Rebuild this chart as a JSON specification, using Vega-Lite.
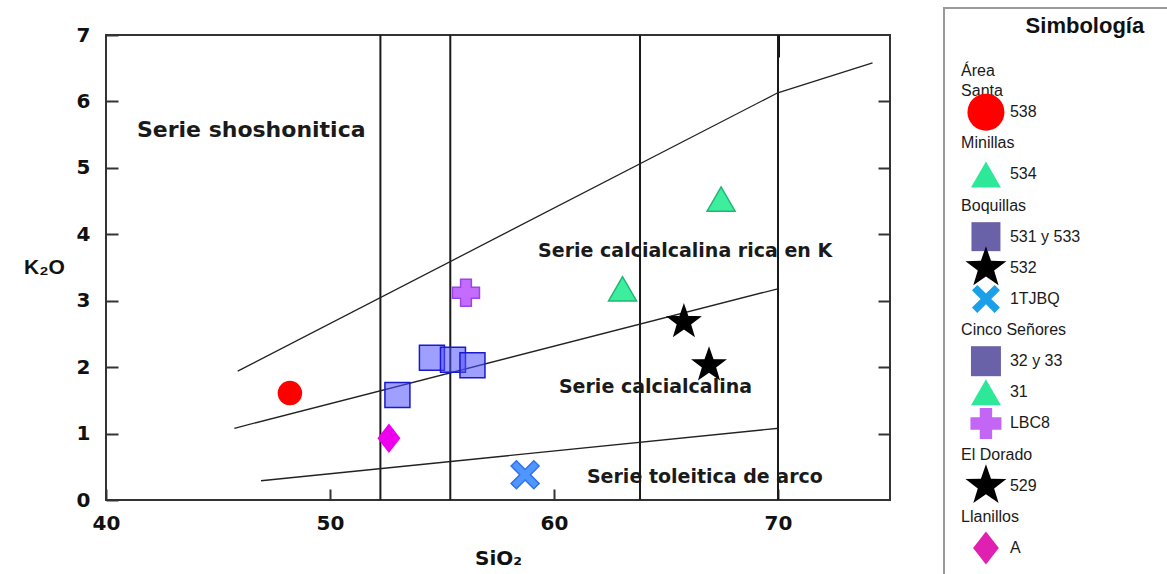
{
  "$schema": "https://vega.github.io/schema/vega-lite/v6.json",
  "padding": {"left": 22, "top": 7, "right": 0, "bottom": 0},
  "background": "white",
  "config": {"font": "Liberation Sans"},
  "datasets": {
    "points": [
      {"area": "Área Santa", "sample": "538", "SiO2": 48.21, "K2O": 1.61},
      {"area": "Llanillos", "sample": "A", "SiO2": 52.63, "K2O": 0.93},
      {"area": "Boquillas", "sample": "531 y 533", "SiO2": 53.01, "K2O": 1.58},
      {"area": "Boquillas", "sample": "531 y 533", "SiO2": 54.55, "K2O": 2.14},
      {"area": "Cinco Señores", "sample": "32 y 33", "SiO2": 55.49, "K2O": 2.11},
      {"area": "Cinco Señores", "sample": "32 y 33", "SiO2": 56.36, "K2O": 2.03},
      {"area": "Cinco Señores", "sample": "LBC8", "SiO2": 56.07, "K2O": 3.12},
      {"area": "Boquillas", "sample": "1TJBQ", "SiO2": 58.71, "K2O": 0.38},
      {"area": "Cinco Señores", "sample": "31", "SiO2": 63.06, "K2O": 3.18},
      {"area": "Minillas", "sample": "534", "SiO2": 67.46, "K2O": 4.53},
      {"area": "Boquillas", "sample": "532", "SiO2": 65.8, "K2O": 2.68},
      {"area": "El Dorado", "sample": "529", "SiO2": 66.92, "K2O": 2.03}
    ],
    "bounds": [
      {"boundary": "shoshonitica", "SiO2": 45.88, "K2O": 1.94},
      {"boundary": "shoshonitica", "SiO2": 69.99, "K2O": 6.13},
      {"boundary": "shoshonitica", "SiO2": 74.22, "K2O": 6.58},
      {"boundary": "alto K", "SiO2": 45.73, "K2O": 1.08},
      {"boundary": "alto K", "SiO2": 69.99, "K2O": 3.18},
      {"boundary": "toleitica", "SiO2": 46.92, "K2O": 0.29},
      {"boundary": "toleitica", "SiO2": 70.04, "K2O": 1.08}
    ],
    "vlines": [
      {"SiO2": 52.25}, {"SiO2": 55.37}, {"SiO2": 63.84}, {"SiO2": 70.0}
    ],
    "series": [
      {"serie": "Serie shoshonitica", "SiO2": 41.38, "K2O": 5.465},
      {"serie": "Serie calcialcalina rica en K", "SiO2": 59.29, "K2O": 3.66},
      {"serie": "Serie calcialcalina", "SiO2": 60.22, "K2O": 1.61},
      {"serie": "Serie toleitica de arco", "SiO2": 61.47, "K2O": 0.256}
    ],
    "legend": [
      {"idx": 0, "kind": "header2", "label": "Área\nSanta"},
      {"idx": 1, "kind": "item", "label": "538"},
      {"idx": 2, "kind": "header", "label": "Minillas"},
      {"idx": 3, "kind": "item", "label": "534"},
      {"idx": 4, "kind": "header", "label": "Boquillas"},
      {"idx": 5, "kind": "item", "label": "531 y 533"},
      {"idx": 6, "kind": "item", "label": "532"},
      {"idx": 7, "kind": "item", "label": "1TJBQ"},
      {"idx": 8, "kind": "header", "label": "Cinco Señores"},
      {"idx": 9, "kind": "item", "label": "32 y 33"},
      {"idx": 10, "kind": "item", "label": "31"},
      {"idx": 11, "kind": "item", "label": "LBC8"},
      {"idx": 12, "kind": "header", "label": "El Dorado"},
      {"idx": 13, "kind": "item", "label": "529"},
      {"idx": 14, "kind": "header", "label": "Llanillos"},
      {"idx": 15, "kind": "item", "label": "A"}
    ]
  },
  "resolve": {"scale": {"shape": "independent", "fill": "independent", "stroke": "independent", "size": "independent", "fillOpacity": "independent", "x": "independent", "y": "independent"}},
  "spacing": 51,
  "hconcat": [
    {
      "spacing": 0,
      "vconcat": [
        {
          "width": 10,
          "height": 16,
          "view": {"stroke": null},
          "data": {"values": []},
          "mark": "point"
        },
        {
          "width": 784,
          "height": 465,
          "view": {"stroke": "#333333", "strokeWidth": 2},
          "resolve": {"axis": {"x": "independent", "y": "independent"}},
          "layer": [
            {
              "data": {"name": "vlines"},
              "mark": {"type": "rule", "stroke": "#1a1a1a", "strokeWidth": 2},
              "encoding": {
                "x": {
                  "field": "SiO2", "type": "quantitative",
                  "scale": {"domain": [40, 75], "nice": false, "zero": false},
                  "axis": {
                    "orient": "bottom", "values": [40, 50, 60, 70], "domain": false, "grid": false,
                    "tickSize": -11, "tickWidth": 2, "tickColor": "#333333",
                    "labelFont": "DejaVu Sans", "labelFontWeight": "bold", "labelFontSize": 20, "labelColor": "#111111",
                    "labelPadding": 24, "labelFlush": false,
                    "title": "SiO₂", "titleFont": "DejaVu Sans", "titleFontWeight": "bold", "titleFontSize": 20,
                    "titleColor": "#111111", "titleY": 58, "titleBaseline": "middle"
                  }
                },
                "y": {
                  "datum": 0, "type": "quantitative",
                  "scale": {"domain": [0, 7], "nice": false, "zero": false},
                  "axis": {
                    "orient": "left", "values": [0, 1, 2, 3, 4, 5, 6, 7], "domain": false, "grid": false,
                    "tickSize": -12, "tickWidth": 2, "tickColor": "#333333",
                    "labelFont": "DejaVu Sans", "labelFontWeight": "bold", "labelFontSize": 20, "labelColor": "#111111",
                    "labelPadding": 28, "labelFlush": false,
                    "title": "K₂O", "titleFont": "Liberation Sans", "titleFontWeight": "bold", "titleFontSize": 21,
                    "titleColor": "#111111", "titleAngle": 0, "titleX": -62, "titleY": 232,
                    "titleAlign": "center", "titleBaseline": "middle"
                  }
                },
                "y2": {"datum": 7}
              }
            },
            {
              "data": {"name": "bounds"},
              "mark": {"type": "line", "stroke": "#222222", "strokeWidth": 1.3},
              "encoding": {
                "x": {
                  "field": "SiO2", "type": "quantitative",
                  "scale": {"domain": [40, 75], "nice": false, "zero": false},
                  "axis": {"orient": "top", "values": [70], "domain": false, "grid": false, "labels": false,
                           "tickSize": -22, "tickWidth": 3, "tickColor": "#111111", "title": null}
                },
                "y": {
                  "field": "K2O", "type": "quantitative",
                  "scale": {"domain": [0, 7], "nice": false, "zero": false},
                  "axis": {"orient": "right", "values": [1, 2, 3, 4, 5, 6], "domain": false, "grid": false, "labels": false,
                           "tickSize": -12, "tickWidth": 2, "tickColor": "#333333", "title": null}
                },
                "detail": {"field": "boundary", "type": "nominal"}
              }
            },
            {
              "data": {"name": "points"},
              "mark": {"type": "point", "filled": true, "opacity": 1, "strokeWidth": 1.5},
              "encoding": {
                "x": {"field": "SiO2", "type": "quantitative", "scale": {"domain": [40, 75], "nice": false, "zero": false}, "axis": null},
                "y": {"field": "K2O", "type": "quantitative", "scale": {"domain": [0, 7], "nice": false, "zero": false}, "axis": null},
                "shape": {
                  "field": "sample", "type": "nominal", "legend": null,
                  "scale": {
                    "domain": ["538", "534", "531 y 533", "532", "1TJBQ", "32 y 33", "31", "LBC8", "529", "A"],
                    "range": ["circle", "triangle-up", "square",
                      "M0,-1L0.235,-0.324L0.951,-0.309L0.38,0.124L0.588,0.809L0,0.4L-0.588,0.809L-0.38,0.124L-0.951,-0.309L-0.235,-0.324Z",
                      "M-1,-0.62L-0.62,-1L0,-0.38L0.62,-1L1,-0.62L0.38,0L1,0.62L0.62,1L0,0.38L-0.62,1L-1,0.62L-0.38,0Z",
                      "square", "triangle-up", "cross",
                      "M0,-1L0.235,-0.324L0.951,-0.309L0.38,0.124L0.588,0.809L0,0.4L-0.588,0.809L-0.38,0.124L-0.951,-0.309L-0.235,-0.324Z",
                      "M0,-1L0.78,0L0,1L-0.78,0Z"]
                  }
                },
                "fill": {
                  "field": "sample", "type": "nominal", "legend": null,
                  "scale": {
                    "domain": ["538", "534", "531 y 533", "532", "1TJBQ", "32 y 33", "31", "LBC8", "529", "A"],
                    "range": ["#ff0000", "#3cee9e", "#5050ff", "#000000", "#4f97ff", "#5050ff", "#3cee9e", "#c46cff", "#000000", "#ee00ee"]
                  }
                },
                "stroke": {
                  "field": "sample", "type": "nominal", "legend": null,
                  "scale": {
                    "domain": ["538", "534", "531 y 533", "532", "1TJBQ", "32 y 33", "31", "LBC8", "529", "A"],
                    "range": ["#ff0000", "#1fb872", "#1a1acc", "#000000", "#2f6ff0", "#1a1acc", "#1fb872", "#9b45e6", "#000000", "#ee00ee"]
                  }
                },
                "fillOpacity": {
                  "field": "sample", "type": "nominal", "legend": null,
                  "scale": {
                    "type": "ordinal",
                    "domain": ["538", "534", "531 y 533", "532", "1TJBQ", "32 y 33", "31", "LBC8", "529", "A"],
                    "range": [1, 1, 0.55, 1, 1, 0.55, 1, 1, 1, 1]
                  }
                },
                "size": {
                  "field": "sample", "type": "nominal", "legend": null,
                  "scale": {
                    "type": "ordinal",
                    "domain": ["538", "534", "531 y 533", "532", "1TJBQ", "32 y 33", "31", "LBC8", "529", "A"],
                    "range": [529, 784, 625, 1100, 784, 625, 784, 729, 1100, 729]
                  }
                }
              }
            },
            {
              "data": {"name": "series"},
              "transform": [{"filter": "datum.serie === 'Serie shoshonitica'"}],
              "mark": {"type": "text", "font": "DejaVu Sans", "fontWeight": "bold", "fontSize": 22, "color": "#1a1a1a", "align": "left", "baseline": "alphabetic"},
              "encoding": {
                "x": {"field": "SiO2", "type": "quantitative", "scale": {"domain": [40, 75], "nice": false, "zero": false}, "axis": null},
                "y": {"field": "K2O", "type": "quantitative", "scale": {"domain": [0, 7], "nice": false, "zero": false}, "axis": null},
                "text": {"field": "serie", "type": "nominal"}
              }
            },
            {
              "data": {"name": "series"},
              "transform": [{"filter": "datum.serie !== 'Serie shoshonitica'"}],
              "mark": {"type": "text", "font": "DejaVu Sans", "fontWeight": "bold", "fontSize": 19, "color": "#1a1a1a", "align": "left", "baseline": "alphabetic"},
              "encoding": {
                "x": {"field": "SiO2", "type": "quantitative", "scale": {"domain": [40, 75], "nice": false, "zero": false}, "axis": null},
                "y": {"field": "K2O", "type": "quantitative", "scale": {"domain": [0, 7], "nice": false, "zero": false}, "axis": null},
                "text": {"field": "serie", "type": "nominal"}
              }
            }
          ]
        }
      ]
    },
    {
      "width": 228,
      "height": 568,
      "view": {"stroke": "#9a9a9a", "strokeWidth": 2},
      "layer": [
        {
          "data": {"values": [{"t": "Simbología"}]},
          "mark": {"type": "text", "font": "Liberation Sans", "fontWeight": "bold", "fontSize": 22, "color": "#111111", "align": "center", "baseline": "middle"},
          "encoding": {
            "x": {"datum": 61.8, "type": "quantitative", "scale": {"domain": [0, 100], "nice": false, "zero": false}, "axis": null},
            "y": {"datum": -1.767, "type": "quantitative", "scale": {"domain": [-2.345, 15.9], "nice": false, "zero": false, "reverse": true}, "axis": null},
            "text": {"field": "t", "type": "nominal"}
          }
        },
        {
          "data": {"name": "legend"},
          "transform": [{"filter": "datum.kind === 'header'"}],
          "mark": {"type": "text", "font": "Liberation Sans", "fontSize": 16, "color": "#1a1a1a", "align": "left", "baseline": "middle"},
          "encoding": {
            "x": {"datum": 7.5, "type": "quantitative", "scale": {"domain": [0, 100], "nice": false, "zero": false}, "axis": null},
            "y": {"field": "idx", "type": "quantitative", "scale": {"domain": [-2.345, 15.9], "nice": false, "zero": false, "reverse": true}, "axis": null},
            "text": {"field": "label", "type": "nominal"}
          }
        },
        {
          "data": {"name": "legend"},
          "transform": [{"filter": "datum.kind === 'header2'"}],
          "mark": {"type": "text", "font": "Liberation Sans", "fontSize": 16, "color": "#1a1a1a", "align": "left", "baseline": "middle", "lineBreak": "\n", "lineHeight": 20, "dy": -10},
          "encoding": {
            "x": {"datum": 7.5, "type": "quantitative", "scale": {"domain": [0, 100], "nice": false, "zero": false}, "axis": null},
            "y": {"field": "idx", "type": "quantitative", "scale": {"domain": [-2.345, 15.9], "nice": false, "zero": false, "reverse": true}, "axis": null},
            "text": {"field": "label", "type": "nominal"}
          }
        },
        {
          "data": {"name": "legend"},
          "transform": [{"filter": "datum.kind === 'item'"}],
          "mark": {"type": "point", "filled": true, "opacity": 1, "strokeWidth": 0},
          "encoding": {
            "x": {"datum": 18.4, "type": "quantitative", "scale": {"domain": [0, 100], "nice": false, "zero": false}, "axis": null},
            "y": {"field": "idx", "type": "quantitative", "scale": {"domain": [-2.345, 15.9], "nice": false, "zero": false, "reverse": true}, "axis": null},
            "shape": {
              "field": "label", "type": "nominal", "legend": null,
              "scale": {
                "domain": ["538", "534", "531 y 533", "532", "1TJBQ", "32 y 33", "31", "LBC8", "529", "A"],
                "range": ["circle", "triangle-up", "square",
                  "M0,-1L0.235,-0.324L0.951,-0.309L0.38,0.124L0.588,0.809L0,0.4L-0.588,0.809L-0.38,0.124L-0.951,-0.309L-0.235,-0.324Z",
                  "M-1,-0.62L-0.62,-1L0,-0.38L0.62,-1L1,-0.62L0.38,0L1,0.62L0.62,1L0,0.38L-0.62,1L-1,0.62L-0.38,0Z",
                  "square", "triangle-up", "cross",
                  "M0,-1L0.235,-0.324L0.951,-0.309L0.38,0.124L0.588,0.809L0,0.4L-0.588,0.809L-0.38,0.124L-0.951,-0.309L-0.235,-0.324Z",
                  "M0,-1L0.78,0L0,1L-0.78,0Z"]
              }
            },
            "fill": {
              "field": "label", "type": "nominal", "legend": null,
              "scale": {
                "domain": ["538", "534", "531 y 533", "532", "1TJBQ", "32 y 33", "31", "LBC8", "529", "A"],
                "range": ["#ff0000", "#2ee89a", "#6a62a8", "#000000", "#1a9fe8", "#6a62a8", "#2ee89a", "#c466f5", "#000000", "#e020b0"]
              }
            },
            "size": {
              "field": "label", "type": "nominal", "legend": null,
              "scale": {
                "type": "ordinal",
                "domain": ["538", "534", "531 y 533", "532", "1TJBQ", "32 y 33", "31", "LBC8", "529", "A"],
                "range": [1369, 900, 841, 1850, 784, 900, 900, 961, 1850, 1089]
              }
            }
          }
        },
        {
          "data": {"name": "legend"},
          "transform": [{"filter": "datum.kind === 'item'"}],
          "mark": {"type": "text", "font": "Liberation Sans", "fontSize": 16, "color": "#1a1a1a", "align": "left", "baseline": "middle"},
          "encoding": {
            "x": {"datum": 28.9, "type": "quantitative", "scale": {"domain": [0, 100], "nice": false, "zero": false}, "axis": null},
            "y": {"field": "idx", "type": "quantitative", "scale": {"domain": [-2.345, 15.9], "nice": false, "zero": false, "reverse": true}, "axis": null},
            "text": {"field": "label", "type": "nominal"}
          }
        }
      ]
    }
  ]
}
